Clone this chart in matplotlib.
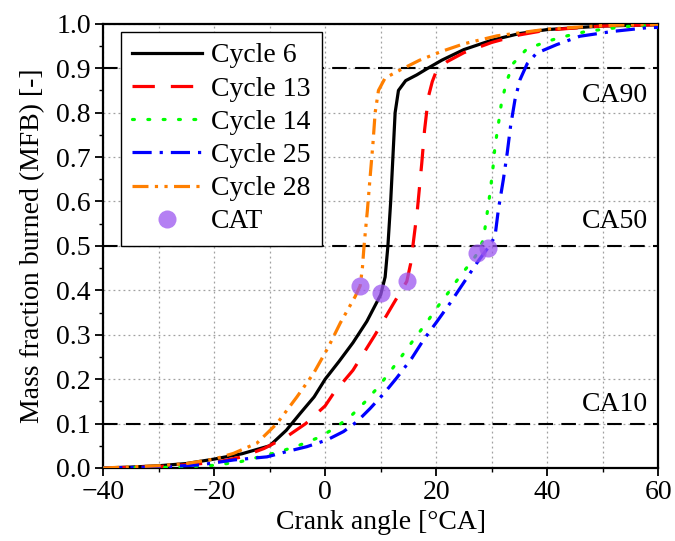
import numpy as np
import matplotlib.pyplot as plt
from matplotlib.ticker import MultipleLocator

plt.rcParams['font.family'] = ['Liberation Serif', 'DejaVu Serif']
plt.rcParams['mathtext.fontset'] = 'stix'

# crank angle [deg CA] and mass fraction burned for each cycle
x_c6 = [-40, -35, -30, -25, -20, -15, -10, -7, -4.5, -2, 0, 2.5, 5, 7.5, 10,
        10.8, 11.3, 11.8, 12.2, 12.6, 13.2, 14.5, 16.5, 18.5, 21, 25, 30, 35, 40, 50, 60]
y_c6 = [0.0, 0.002, 0.005, 0.01, 0.02, 0.032, 0.05, 0.085, 0.123, 0.16, 0.2, 0.24, 0.282, 0.33, 0.39,
        0.43, 0.5, 0.6, 0.7, 0.8, 0.85, 0.872, 0.885, 0.9, 0.918, 0.942, 0.963, 0.978, 0.987, 0.995, 0.998]

x_c13 = [-40, -30, -20, -15, -11, -7, -3.5, 0, 1.5, 5, 9, 12.3, 14.7, 15.4, 16.0,
         16.6, 17.4, 17.9, 18.6, 19.3, 20.1, 22, 25, 30, 35, 40, 50, 60]
y_c13 = [0.0, 0.003, 0.012, 0.025, 0.044, 0.07, 0.1, 0.14, 0.168, 0.22, 0.3, 0.37, 0.42, 0.46, 0.52,
         0.58, 0.686, 0.76, 0.836, 0.87, 0.896, 0.915, 0.935, 0.958, 0.975, 0.986, 0.995, 0.998]

x_c14 = [-40, -30, -25, -20, -15.3, -8.1, -4.5, -0.9, 2.1, 4.8, 7.2, 9.6, 11.7, 13.8, 15.9,
         18.2, 20.2, 22.2, 24.3, 26.6, 27.4, 28.5, 29.1, 29.7, 30.2, 30.6, 31.2, 31.8, 32.7,
         33.9, 36.3, 39.9, 42.6, 47.1, 54.3, 60]
y_c14 = [0.0, 0.001, 0.003, 0.006, 0.014, 0.037, 0.052, 0.07, 0.093, 0.119, 0.149, 0.183, 0.217, 0.252, 0.288,
         0.326, 0.362, 0.395, 0.432, 0.468, 0.483, 0.514, 0.566, 0.619, 0.671, 0.724, 0.773, 0.825, 0.87,
         0.911, 0.943, 0.96, 0.97, 0.983, 0.994, 0.997]

x_c25 = [-40, -30, -22.5, -16.5, -10.5, -6.9, -3.3, 0.3, 3.3, 5.7, 8.1, 10.6, 12.9, 15.6, 17.7,
         20.1, 22.5, 24.9, 27.3, 29.3, 30.6, 31.2, 32.1, 32.8, 33.4, 34.2, 35.1, 36.4, 38.1,
         41.7, 45.9, 51.9, 57.9, 60]
y_c25 = [0.0, 0.002, 0.007, 0.018, 0.025, 0.037, 0.048, 0.063, 0.082, 0.104, 0.134, 0.168, 0.203, 0.247, 0.288,
         0.329, 0.371, 0.416, 0.461, 0.495, 0.521, 0.581, 0.649, 0.709, 0.769, 0.829, 0.874, 0.91, 0.934,
         0.953, 0.972, 0.983, 0.991, 0.992]

x_c28 = [-40, -30, -25, -20, -16.5, -12.3, -8.7, -5.1, -2.1, 0.6, 2.7, 5.4, 6.3, 6.7, 7.0,
         7.6, 8.1, 8.6, 9.0, 9.6, 10.8, 13.5, 17, 21, 25, 31, 40, 50, 60]
y_c28 = [0.0, 0.005, 0.01, 0.02, 0.033, 0.056, 0.1, 0.16, 0.213, 0.273, 0.326, 0.386, 0.41, 0.45, 0.5,
         0.58, 0.656, 0.73, 0.8, 0.85, 0.878, 0.896, 0.918, 0.938, 0.955, 0.973, 0.988, 0.996, 0.999]

# combustion onset points (CAT)
x_cat = [6.3, 10.1, 14.7, 27.4, 29.3]
y_cat = [0.41, 0.395, 0.42, 0.483, 0.495]

ref_levels = [0.1, 0.5, 0.9]
ref_names = ['CA10', 'CA50', 'CA90']
ref_text_y = [0.143, 0.556, 0.838]

fig = plt.figure(figsize=(6.75, 5.41), dpi=100)
ax = fig.add_axes([0.153, 0.135, 0.822, 0.821])

fs = 20
lw = 2.3
grid_style = dict(color='#a0a0a0', linestyle=(0, (1.5, 2.5)), linewidth=0.9)

ax.grid(True, which='major', **grid_style)
ax.grid(True, which='minor', axis='x', **grid_style)
ax.set_axisbelow(True)

for lev in ref_levels:
    ax.axhline(lev, color='black', linestyle=(0, (7, 4)), linewidth=1.5, zorder=2)

ax.plot(x_c6, y_c6, color='black', lw=lw, label='Cycle 6', zorder=3)
ax.plot(x_c13, y_c13, color='#ff0000', lw=lw, linestyle=(0, (7, 5)),
        label='Cycle 13', zorder=3)
ax.plot(x_c14, y_c14, color='#00ff00', lw=lw, linestyle=(0, (0.6, 4.2)),
        dash_capstyle='round', label='Cycle 14', zorder=3)
ax.plot(x_c25, y_c25, color='#0000ff', lw=lw, linestyle=(0, (6, 2.5, 1, 2.5)),
        label='Cycle 25', zorder=3)
ax.plot(x_c28, y_c28, color='#ff7f00', lw=lw, linestyle=(0, (5, 2, 1, 2, 1, 2)),
        label='Cycle 28', zorder=3)
ax.plot(x_cat, y_cat, 'o', color='#9b55f0', alpha=0.75, markersize=13,
        markeredgewidth=0, label='CAT', zorder=4)

for name, ty in zip(ref_names, ref_text_y):
    ax.text(52.2, ty, name, fontsize=fs, ha='center', va='center')

ax.set_xlim(-40, 60)
ax.set_ylim(0, 1)
ax.xaxis.set_major_locator(MultipleLocator(20))
ax.xaxis.set_minor_locator(MultipleLocator(10))
ax.yaxis.set_major_locator(MultipleLocator(0.1))
ax.yaxis.set_minor_locator(MultipleLocator(0.05))
ax.yaxis.set_major_formatter(plt.FuncFormatter(lambda v, p: f'{v:.1f}'))

ax.tick_params(which='major', direction='out', length=6, width=1.3, labelsize=fs, pad=3)
ax.tick_params(which='minor', direction='out', length=3, width=1.0)
for s in ax.spines.values():
    s.set_linewidth(1.6)

ax.set_xlabel('Crank angle [°CA]', fontsize=fs, labelpad=3)
ax.set_ylabel('Mass fraction burned (MFB) [-]', fontsize=fs, labelpad=8)

leg = ax.legend(loc='upper left', bbox_to_anchor=(0.032, 0.982), borderaxespad=0,
                fontsize=fs, handlelength=2.5, frameon=True, fancybox=False,
                edgecolor='black', framealpha=1, borderpad=0.4,
                labelspacing=0.28, handletextpad=0.35)
leg.get_frame().set_linewidth(1.0)

fig.savefig('out.png', dpi=100)
